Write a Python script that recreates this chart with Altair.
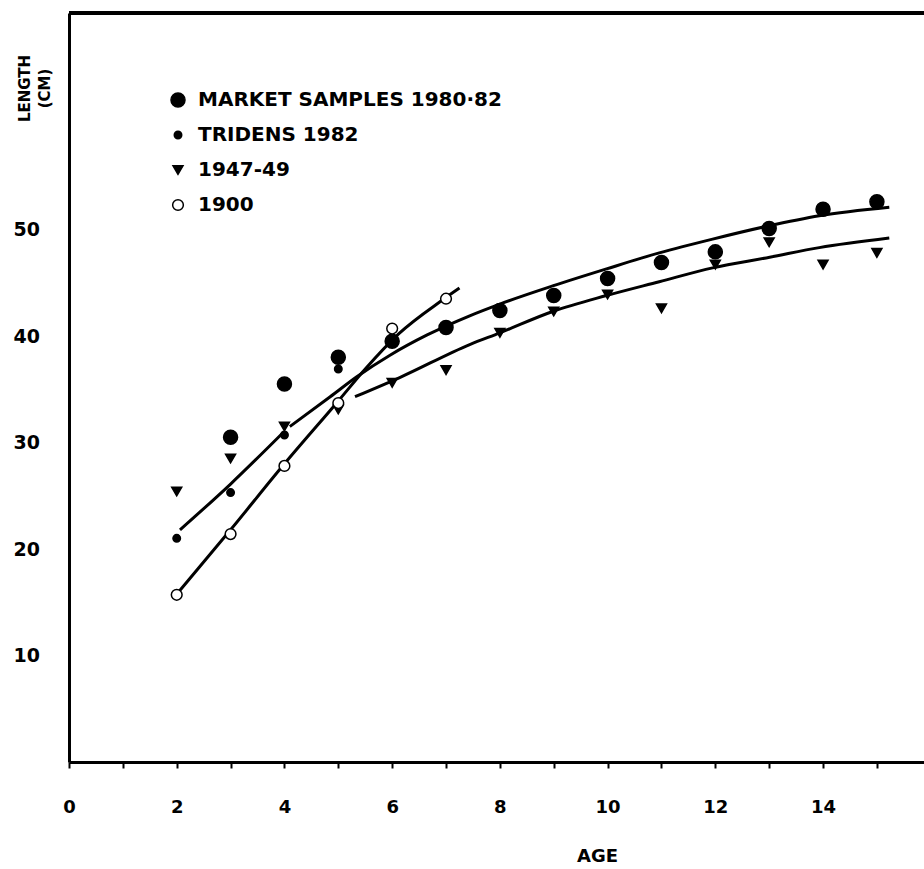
import altair as alt
import pandas as pd

SERIES = ["MARKET SAMPLES 1980·82", "TRIDENS 1982", "1947-49", "1900"]

# observed mean lengths (cm) by age
market_age = [3, 4, 5, 6, 7, 8, 9, 10, 11, 12, 13, 14, 15]
market_len = [30.5, 35.5, 38.0, 39.5, 40.8, 42.4, 43.8, 45.4, 46.9, 47.9, 50.1, 51.9, 52.6]
tridens_age = [2, 3, 4, 5]
tridens_len = [21.0, 25.3, 30.7, 36.9]
y4749_age = [2, 3, 4, 5, 6, 7, 8, 9, 10, 11, 12, 13, 14, 15]
y4749_len = [25.4, 28.5, 31.5, 33.1, 35.6, 36.8, 40.3, 42.3, 43.9, 42.6, 46.7, 48.8, 46.7, 47.8]
y1900_age = [2, 3, 4, 5, 6, 7]
y1900_len = [15.7, 21.4, 27.8, 33.7, 40.7, 43.5]

# hand-drawn growth curves
c_market_age = [4.10, 4.85, 5.35, 5.96, 6.65, 7.44, 8.00, 8.98, 9.98, 10.96, 11.95, 12.95, 13.93, 15.23]
c_market_len = [31.5, 34.3, 36.2, 38.2, 40.1, 41.9, 43.0, 44.7, 46.3, 47.8, 49.1, 50.3, 51.3, 52.1]
c_young_age = [2.06, 3.00, 3.95]
c_young_len = [21.8, 26.1, 30.8]
c_1900_age = [2.04, 3.00, 4.00, 5.00, 5.50, 6.12, 6.94, 7.25]
c_1900_len = [16.0, 21.8, 28.0, 33.9, 36.9, 40.2, 43.4, 44.5]
c_4749_age = [5.31, 6.14, 7.44, 8.00, 8.98, 9.98, 10.96, 11.95, 13.01, 13.93, 15.23]
c_4749_len = [34.3, 36.1, 39.2, 40.3, 42.3, 43.8, 45.1, 46.4, 47.4, 48.3, 49.2]

x_ticks = list(range(0, 16))
y_labels = [10, 20, 30, 40, 50]

FONT = "DejaVu Sans"
W, H = 855, 749

points = pd.DataFrame({
    "series": [SERIES[0]] * len(market_age) + [SERIES[1]] * len(tridens_age)
    + [SERIES[2]] * len(y4749_age) + [SERIES[3]] * len(y1900_age),
    "age": market_age + tridens_age + y4749_age + y1900_age,
    "length": market_len + tridens_len + y4749_len + y1900_len,
})

curves = pd.DataFrame({
    "curve": ["market"] * len(c_market_age) + ["young"] * len(c_young_age)
    + ["c1900"] * len(c_1900_age) + ["c4749"] * len(c_4749_age),
    "age": c_market_age + c_young_age + c_1900_age + c_4749_age,
    "length": c_market_len + c_young_len + c_1900_len + c_4749_len,
})

x_enc = alt.X(
    "age:Q",
    scale=alt.Scale(domain=[0, W / 53.86], nice=False, zero=False),
    axis=alt.Axis(
        values=x_ticks,
        labelExpr="datum.value % 2 == 0 ? datum.label : ''",
        grid=False, tickSize=6, tickWidth=2, tickColor="black",
        domainColor="black", domainWidth=3,
        labelFont=FONT, labelFontSize=18, labelFontWeight="bold", labelColor="black",
        labelPadding=30, labelFlush=False, labelOverlap=False,
        title="AGE", titleFont=FONT, titleFontSize=18, titleFontWeight="bold",
        titleColor="black", titleX=528, titleY=94, titleAlign="center",
        titleBaseline="middle",
    ),
)
y_enc = alt.Y(
    "length:Q",
    scale=alt.Scale(domain=[0, H / 10.65], nice=False, zero=False),
    axis=alt.Axis(
        values=y_labels, grid=False, tickSize=0,
        domainColor="black", domainWidth=3,
        labelFont=FONT, labelFontSize=19, labelFontWeight="bold", labelColor="black",
        labelAlign="left", labelBaseline="middle", labelPadding=56,
        title=["LENGTH", "(CM)"], titleFont=FONT, titleFontSize=15,
        titleFontWeight="bold", titleColor="black", titleAngle=270,
        titleX=-52, titleY=75, titleAlign="center", titleBaseline="top",
        titleLineHeight=20,
    ),
)

lines = alt.Chart(curves).mark_line(
    color="black", strokeWidth=3, interpolate="monotone"
).encode(x=x_enc, y=y_enc, detail="curve:N")

leg = alt.Legend(
    orient="none", legendX=99, legendY=77, title=None,
    labelFont=FONT, labelFontSize=20, labelFontWeight="bold", labelColor="black",
    labelOffset=10, rowPadding=15, padding=0, labelLimit=500,
    symbolStrokeWidth=1.5,
)

pts = alt.Chart(points).mark_point(
    filled=True, strokeWidth=1.5, opacity=1
).encode(
    x=x_enc, y=y_enc,
    fill=alt.Fill("series:N", scale=alt.Scale(domain=SERIES, range=["black", "black", "black", "white"]), legend=leg),
    stroke=alt.Stroke("series:N", scale=alt.Scale(domain=SERIES, range=["black", "black", "black", "black"]), legend=leg),
    shape=alt.Shape("series:N", scale=alt.Scale(domain=SERIES, range=["circle", "circle", "triangle-down", "circle"]), legend=leg),
    size=alt.Size("series:N", scale=alt.Scale(type="ordinal", domain=SERIES, range=[196, 56, 100, 115]), legend=leg),
)

top_rule = alt.Chart(points).mark_rule(color="black", strokeWidth=3).encode(
    x=alt.value(0), x2=alt.value(W), y=alt.value(0)
)

chart = alt.layer(lines, pts, top_rule).properties(
    width=W, height=H,
    autosize=alt.AutoSizeParams(type="none"),
    padding={"left": 69, "top": 13, "right": 0, "bottom": 107},
).configure_view(stroke=None).configure(background="white")

chart.save("out.html", embed_options={"renderer": "svg", "actions": False})
